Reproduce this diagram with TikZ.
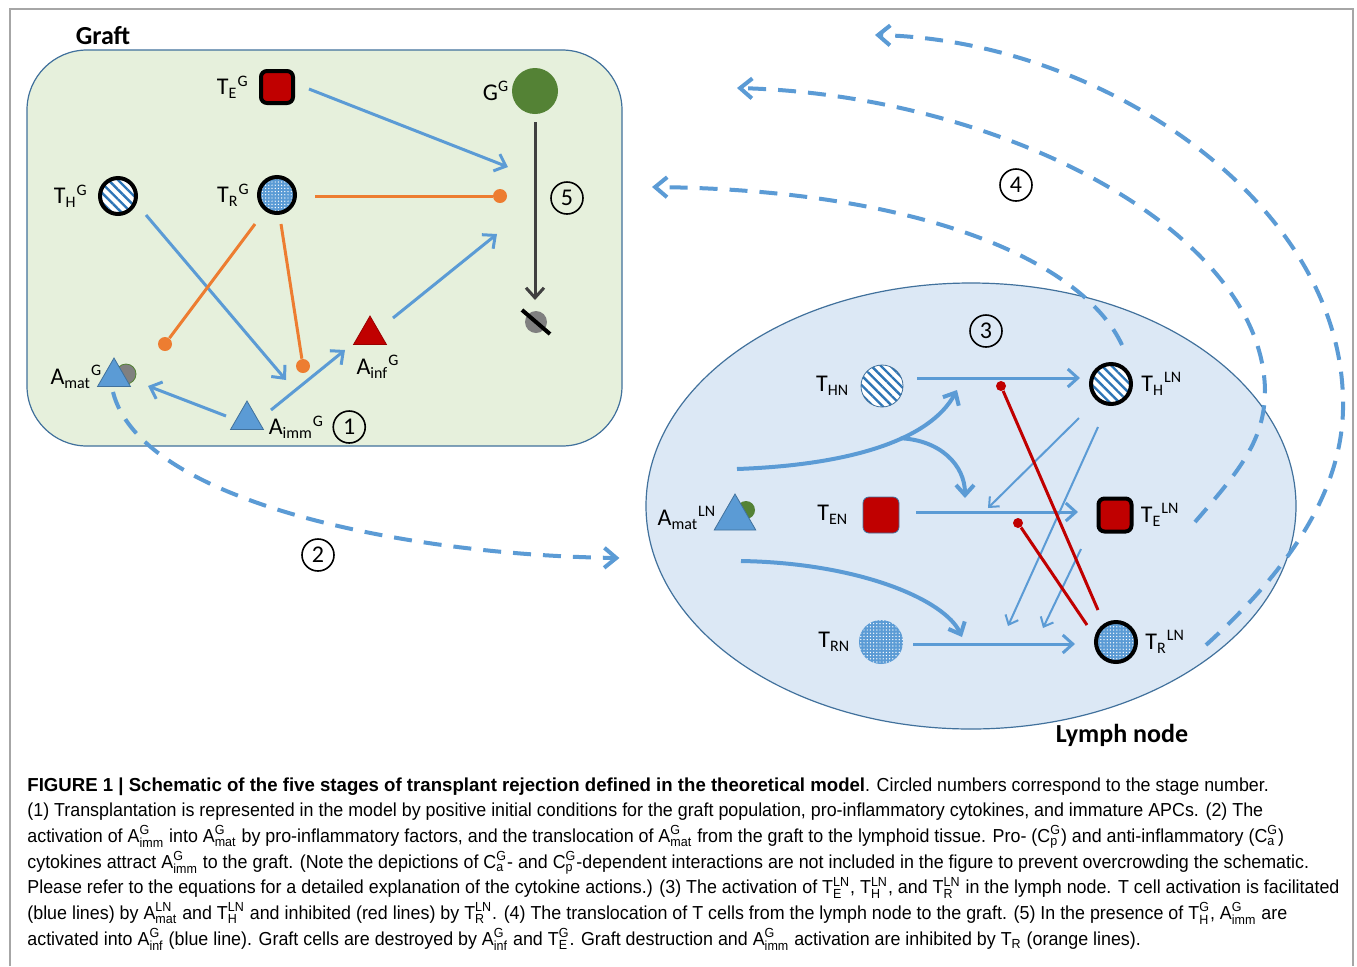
\documentclass[tikz,border=0pt]{standalone}
\usepackage{fontspec}
\usepackage{amsmath}
\setmainfont{Carlito}
\newfontfamily\capfont{Liberation Sans}[FakeStretch=0.95, BoldFeatures={FakeStretch=0.99}]
\usetikzlibrary{arrows.meta, positioning, calc, shapes.geometric, patterns, patterns.meta}
\definecolor{lineblue}{HTML}{5B9BD5}
\definecolor{edgeblue}{HTML}{41719C}
\definecolor{graftgreen}{HTML}{E6F0DC}
\definecolor{nodeblue}{HTML}{DCE8F5}
\definecolor{cellred}{HTML}{C00000}
\definecolor{inhorange}{HTML}{ED7D31}
\definecolor{cellgreen}{HTML}{548235}
\definecolor{hatchblue}{HTML}{2E75B6}
\definecolor{dotblue}{HTML}{5B9BD5}
\definecolor{framegray}{HTML}{A6A6A6}
\newcommand{\supsub}[2]{\smash{$^{\text{#1}}_{\text{#2}}$}}

\begin{document}
\begin{tikzpicture}[
    x=0.5pt, y=-0.5pt,
    lbl/.style={inner sep=0pt, font=\fontsize{12}{14}\selectfont},
    boxtitle/.style={inner sep=0pt, font=\bfseries\fontsize{13}{15}\selectfont},
    stage/.style={draw, circle, line width=0.8pt, minimum size=16pt, inner sep=0pt, font=\fontsize{12}{14}\selectfont},
    tcell/.style={circle, inner sep=0pt, minimum size=18pt},
    active/.style={draw=black, line width=2pt},
    hatched/.style={preaction={fill=white}, pattern={Lines[angle=-45,distance=3.4pt,line width=1.2pt]}, pattern color=hatchblue},
    speckled/.style={preaction={fill=dotblue}, pattern={Dots[radius=0.35pt,distance=1.6pt]}, pattern color=white},
    effector/.style={rectangle, rounded corners=3pt, fill=cellred, inner sep=0pt, minimum size=16pt},
    apc/.style={regular polygon, regular polygon sides=3, inner sep=0pt, fill=lineblue, draw=edgeblue, line width=0.4pt},
    odot/.style={circle, fill=inhorange, inner sep=0pt, minimum size=7pt},
    rdot/.style={circle, fill=cellred, inner sep=0pt, minimum size=5pt},
    act/.style={-{Straight Barb[length=5pt,width=9pt]}, draw=lineblue, line width=1.5pt},
    thinact/.style={-{Straight Barb[length=4pt,width=7pt]}, draw=lineblue, line width=1pt},
    flow/.style={-{Straight Barb[length=5pt,width=9pt]}, draw=lineblue, line width=2pt},
    inhib/.style={draw=inhorange, line width=1.5pt},
    block/.style={draw=cellred, line width=1.5pt},
    move/.style={-{Straight Barb[length=6pt,width=10pt]}, draw=lineblue, line width=2pt, dash pattern=on 9pt off 6pt},
    capline/.style={anchor=base west, inner sep=0pt, font=\capfont\fontsize{9.4}{11}\selectfont}
  ]
    \fill[white] (0,0) rectangle (1357,966);
    \useasboundingbox (0,0) rectangle (1357,966);
    \draw[framegray, line width=0.6pt] (10,966) -- (10,9) -- (1353,9) -- (1353,966);

    % Compartments
    \node[draw=edgeblue, fill=graftgreen, line width=0.6pt, rounded corners=30pt,
          minimum width=297.5pt, minimum height=198pt, inner sep=0pt] (graft) at (324.5,248) {};
    \node[boxtitle] (gtitle) at (103,36) {Graft};
    \node[ellipse, draw=edgeblue, fill=nodeblue, line width=0.6pt,
          minimum width=325pt, minimum height=223pt, inner sep=0pt] (lymph) at (971,506) {};
    \node[boxtitle] (ltitle) at (1122,735) {Lymph node};

    % Graft cells
    \node[effector, active] (teg) at (277,87) {};
    \node[circle, fill=cellgreen, minimum width=22pt, minimum height=23pt, inner sep=0pt] (gg) at (535,91) {};
    \node[tcell, hatched, active] (thg) at (118,196) {};
    \node[tcell, speckled, active] (trg) at (277,195) {};
    \node[apc, fill=cellred, draw=cellred!80!black, minimum size=19pt] (ainf) at (370,335) {};
    \node[apc, minimum size=19pt] (aimm) at (247,420) {};
    \node[circle, fill=gray, draw=cellgreen, line width=0.4pt, minimum size=10pt, inner sep=0pt] (amatgc) at (126,374) {};
    \node[apc, minimum size=19pt] (amatg) at (114,377) {};
    \node[circle, fill=gray, minimum size=11pt, inner sep=0pt] (dead) at (536,322) {};
    \draw[line width=2pt] ([shift={(-14,-12)}]dead.center) -- ([shift={(14,12)}]dead.center);
    \node[odot] (o1) at (500,196) {};
    \node[odot] (o2) at (165,344) {};
    \node[odot] (o3) at (303,366) {};
    \coordinate (kill) at (508,167);
    \coordinate (killb) at (497,234);
    \coordinate (mature) at (286,380);

    \node[lbl, left=5pt of teg] (tegl) {T\textsubscript{E}\textsuperscript{G}};
    \node[lbl, left=1pt of gg] (ggl) {G\textsuperscript{G}};
    \node[lbl, left=5pt of thg] (thgl) {T\textsubscript{H}\textsuperscript{G}};
    \node[lbl, left=3.5pt of trg] (trgl) {T\textsubscript{R}\textsuperscript{G}};
    \node[lbl, left=0pt of amatg] (amatgl) {A\textsubscript{mat}\textsuperscript{G}};
    \node[lbl, right=5pt of aimm, yshift=-3.5pt] (aimml) {A\textsubscript{imm}\textsuperscript{G}};
    \node[lbl, below=5pt of ainf, xshift=4pt] (ainfl) {A\textsubscript{inf}\textsuperscript{G}};
    \node[stage, right=4pt of aimml] (s1) {1};
    \node[stage] (s5) at (567,198) {5};
    \node[stage] (s2) at (318,555) {2};

    % Graft interactions
    \draw[act] ([shift={(32,2)}]teg.center) -- (kill);
    \draw[act] ([shift={(23,-17)}]ainf.center) -- (killb);
    \draw[act] ([shift={(28,19)}]thg.center) -- (mature);
    \draw[act] ([shift={(-21,-4)}]aimm.center) -- ([shift={(34,9)}]amatg.center);
    \draw[act] ([shift={(24,-10)}]aimm.center) -- ([shift={(-25,15)}]ainf.center);
    \draw[inhib] ([shift={(38,1)}]trg.center) -- (o1);
    \draw[inhib] ([shift={(-22,29)}]trg.center) -- (o2);
    \draw[inhib] ([shift={(4,29)}]trg.center) -- (o3);
    \draw[-{Straight Barb[length=5pt,width=9pt]}, draw=black!75, line width=1.5pt]
      ([shift={(0,31)}]gg.center) -- ([shift={(-1,-22)}]dead.center);

    % Lymph node cells
    \node[tcell, hatched, draw=edgeblue, line width=0.4pt, minimum size=21pt] (thn) at (882,386) {};
    \node[effector, draw=edgeblue, line width=0.4pt, minimum size=18pt] (ten) at (881,515) {};
    \node[tcell, speckled, minimum size=22pt] (trn) at (881,642) {};
    \node[tcell, hatched, active, minimum size=20pt] (thln) at (1111,384) {};
    \node[effector, active, minimum size=16.5pt] (teln) at (1115,515) {};
    \node[tcell, speckled, active, minimum size=20pt] (trln) at (1116,642) {};
    \node[circle, fill=cellgreen, minimum size=9pt, inner sep=0pt] (amatlnc) at (746,510) {};
    \node[apc, minimum size=24pt] (amatln) at (735,518) {};
    \node[rdot] (r1) at (1001,386) {};
    \node[rdot] (r2) at (1018,523) {};
    \coordinate (actH) at (957,390);
    \coordinate (actE) at (965,498);
    \coordinate (actR) at (962,637);
    \coordinate (hitE) at (988,508);
    \coordinate (hitR1) at (1008,626);
    \coordinate (hitR2) at (1043,628);

    \node[lbl, left=5.5pt of thn] (thnl) {T\textsubscript{HN}};
    \node[lbl, left=7pt of ten] (tenl) {T\textsubscript{EN}};
    \node[lbl, left=4pt of trn] (trnl) {T\textsubscript{RN}};
    \node[lbl, right=4pt of thln] (thlnl) {T\textsubscript{H}\textsuperscript{LN}};
    \node[lbl, right=3.5pt of teln] (telnl) {T\textsubscript{E}\textsuperscript{LN}};
    \node[lbl, right=3.5pt of trln] (trlnl) {T\textsubscript{R}\textsuperscript{LN}};
    \node[lbl, left=2pt of amatln] (amatlnl) {A\textsubscript{mat}\textsuperscript{LN}};
    \node[stage] (s3) at (986,331) {3};
    \node[stage] (s4) at (1016,185) {4};

    % Lymph node interactions
    \draw[act] ([shift={(35,-8)}]thn.center) -- ([shift={(-31,-6)}]thln.center);
    \draw[act] ([shift={(35,-3)}]ten.center) -- ([shift={(-37,-3)}]teln.center);
    \draw[act] ([shift={(32,2)}]trn.center) -- ([shift={(-41,2)}]trln.center);
    \draw[flow] ([shift={(2,-49)}]amatln.center) .. controls (850,465) and (930,440) .. (actH)
      coordinate[pos=0.6] (fork);
    \draw[flow] (fork) .. controls (940,440) and (965,465) .. (actE);
    \draw[flow] ([shift={(6,43)}]amatln.center) .. controls (860,563) and (945,600) .. (actR);
    \draw[thinact] ([shift={(-32,34)}]thln.center) -- (hitE);
    \draw[thinact] ([shift={(-13,43)}]thln.center) -- (hitR1);
    \draw[thinact] ([shift={(-34,34)}]teln.center) -- (hitR2);
    \draw[block] ([shift={(-18,-32)}]trln.center) -- (r1);
    \draw[block] ([shift={(-29,-17)}]trln.center) -- (r2);

    % Translocation between compartments
    \coordinate (backA) at (652,187);
    \coordinate (backB) at (737,88);
    \coordinate (backC) at (875,35);
    \draw[move] ([shift={(-1,15)}]amatg.center) .. controls (140,500) and (400,555) .. ([shift={(-26,52)}]lymph.west);
    \draw[move] ([shift={(11,-39)}]thln.center) .. controls (1085,265) and (930,190) .. (backA);
    \draw[move] ([shift={(80,7)}]teln.center) .. controls (1240,470) and (1265,440) .. (1265,390)
      .. controls (1262,230) and (1000,95) .. (backB);
    \draw[move] ([shift={(90,3)}]trln.center) .. controls (1300,560) and (1345,480) .. (1343,400)
      .. controls (1340,200) and (1100,40) .. (backC);

    % Caption
    \node[capline] (cap1) at (27,791) {\textbf{FIGURE 1 | Schematic of the five stages of transplant rejection defined in the theoretical model}. Circled numbers correspond to the stage number.};
    \node[capline] (cap2) at (27,816.7) {(1) Transplantation is represented in the model by positive initial conditions for the graft population, pro-inflammatory cytokines, and immature APCs. (2) The};
    \node[capline] (cap3) at (27,842.4) {activation of A\supsub{G}{imm} into A\supsub{G}{mat} by pro-inflammatory factors, and the translocation of A\supsub{G}{mat} from the graft to the lymphoid tissue. Pro- (C\supsub{G}{p}) and anti-inflammatory (C\supsub{G}{a})};
    \node[capline] (cap4) at (27,868.1) {cytokines attract A\supsub{G}{imm} to the graft. (Note the depictions of C\supsub{G}{a}- and C\supsub{G}{p}-dependent interactions are not included in the figure to prevent overcrowding the schematic.};
    \node[capline] (cap5) at (27,893.8) {Please refer to the equations for a detailed explanation of the cytokine actions.) (3) The activation of T\supsub{LN}{E}, T\supsub{LN}{H}, and T\supsub{LN}{R} in the lymph node. T cell activation is facilitated};
    \node[capline] (cap6) at (27,919.5) {(blue lines) by A\supsub{LN}{mat} and T\supsub{LN}{H} and inhibited (red lines) by T\supsub{LN}{R}. (4) The translocation of T cells from the lymph node to the graft. (5) In the presence of T\supsub{G}{H}, A\supsub{G}{imm} are};
    \node[capline] (cap7) at (27,945.2) {activated into A\supsub{G}{inf} (blue line). Graft cells are destroyed by A\supsub{G}{inf} and T\supsub{G}{E}. Graft destruction and A\supsub{G}{imm} activation are inhibited by T\textsubscript{R} (orange lines).};
\end{tikzpicture}
\end{document}
